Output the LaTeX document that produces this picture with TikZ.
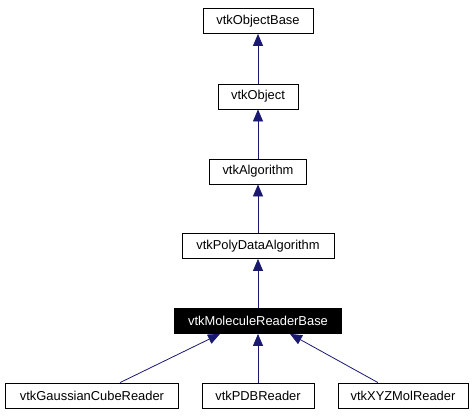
\documentclass[tikz,border=0pt]{standalone}
\usepackage{fontspec}
\setmainfont{Liberation Sans}
\usetikzlibrary{arrows.meta}
\definecolor{edgeblue}{HTML}{191970}
\begin{document}
\begin{tikzpicture}[x=1pt,y=-1pt,
  cls/.style={draw=black,line width=0.8pt,fill=white,inner sep=0pt,minimum height=25pt,font=\fontsize{12.9}{14}\selectfont},
  cur/.style={cls,fill=black,text=white},
  inh/.style={draw=edgeblue,line width=0.8pt,-{Triangle[length=12pt,width=10pt]}}]
\useasboundingbox (0,0) rectangle (476,415);
\node[cls,minimum width=110pt] (ob) at (258,21) {vtkObjectBase};
\node[cls,minimum width=80pt] (o) at (258,96.5) {vtkObject};
\node[cls,minimum width=97pt] (alg) at (258,171.5) {vtkAlgorithm};
\node[cls,minimum width=152pt] (pda) at (258,246) {vtkPolyDataAlgorithm};
\node[cur,minimum width=167pt] (mrb) at (258,321) {vtkMoleculeReaderBase};
\node[cls,minimum width=173pt] (gc) at (92,395.5) {vtkGaussianCubeReader};
\node[cls,minimum width=112pt] (pdb) at (258,395.5) {vtkPDBReader};
\node[cls,minimum width=130pt] (xyz) at (403,395.5) {vtkXYZMolReader};
\draw[inh] (o.north) -- (ob.south);
\draw[inh] (alg.north) -- (o.south);
\draw[inh] (pda.north) -- (alg.south);
\draw[inh] (mrb.north) -- (pda.south);
\draw[inh] (pdb.north) -- (mrb.south);
\draw[inh] ([xshift=28pt]gc.north) -- ([xshift=-38pt]mrb.south);
\draw[inh] ([xshift=-25pt]xyz.north) -- ([xshift=32pt]mrb.south);
\end{tikzpicture}
\end{document}
